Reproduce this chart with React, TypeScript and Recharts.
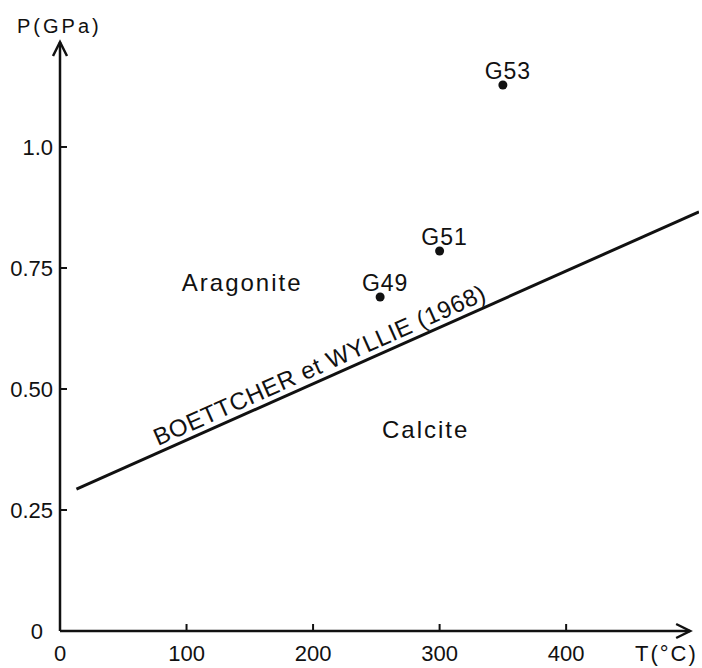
import { ScatterChart, Scatter, XAxis, YAxis, ReferenceLine, ReferenceDot } from "recharts";

// experimental runs
const sampleNames = ["G49", "G51", "G53"];
const sampleT = [253, 300, 350];
const sampleP = [0.69, 0.785, 1.128];

// Boettcher & Wyllie (1968) calcite / aragonite boundary
const boundaryT = [13, 505];
const boundaryP = [0.293, 0.866];

const xTicks = [0, 100, 200, 300, 400];
const yTicks = [0, 0.25, 0.5, 0.75, 1.0];
const yTickLabels = ["0", "0.25", "0.50", "0.75", "1.0"];

// phase field labels
const fieldNames = ["Aragonite", "Calcite"];
const fieldT = [144, 289];
const fieldP = [0.719, 0.417];

const boundaryLabel = "BOETTCHER et WYLLIE (1968)";
const boundaryLabelT = 205;
const boundaryLabelP = 0.55;

const axisEndT = 498;
const axisEndP = 1.217;

const samples = sampleNames.map((name, i) => ({ name, t: sampleT[i], p: sampleP[i] }));
const boundary = boundaryT.map((t, i) => ({ t, p: boundaryP[i] }));

const FONT = "'Liberation Sans', Arial, sans-serif";
const INK = "#111";

const XTick = ({ x, payload }: any) => (
  <g>
    <line x1={x} y1={631} x2={x} y2={624} stroke={INK} strokeWidth={2} />
    <text x={x} y={661} textAnchor="middle" fontFamily={FONT} fontSize={22} fill={INK}>
      {payload.value}
    </text>
  </g>
);

const YTick = ({ y, payload }: any) => {
  const idx = yTicks.indexOf(payload.value);
  const isZero = payload.value === 0;
  return (
    <g>
      {!isZero && <line x1={60} y1={y} x2={67} y2={y} stroke={INK} strokeWidth={2} />}
      <text x={isZero ? 43 : 53} y={y + 8} textAnchor="end" fontFamily={FONT} fontSize={22} fill={INK}>
        {yTickLabels[idx]}
      </text>
    </g>
  );
};

const SampleDot = ({ cx, cy, payload }: any) => (
  <g>
    <circle cx={cx} cy={cy} r={4.5} fill={INK} />
    <text x={cx + 5} y={cy - 6} textAnchor="middle" fontFamily={FONT} fontSize={23} letterSpacing={1} fill={INK}>
      {payload.name}
    </text>
  </g>
);

const arrowAxis = (dir: "x" | "y") => (p: any) => {
  const { x1, y1, x2, y2 } = p;
  const head =
    dir === "x"
      ? `M${x2 - 14},${y2 - 7} L${x2},${y2} L${x2 - 14},${y2 + 7}`
      : `M${x2 - 7},${y2 + 14} L${x2},${y2} L${x2 + 7},${y2 + 14}`;
  return (
    <g>
      <line x1={x1} y1={y1} x2={x2} y2={y2} stroke={INK} strokeWidth={2.5} />
      <path d={head} fill="none" stroke={INK} strokeWidth={2.5} strokeLinejoin="miter" />
    </g>
  );
};

const textAt = (label: string, opts: { angle?: number; size?: number; spacing?: number }) => (p: any) => (
  <text
    x={p.cx}
    y={p.cy}
    textAnchor="middle"
    dominantBaseline="central"
    fontFamily={FONT}
    fontSize={opts.size ?? 24}
    letterSpacing={opts.spacing ?? 0}
    fill={INK}
    transform={opts.angle ? `rotate(${opts.angle} ${p.cx} ${p.cy})` : undefined}
  >
    {label}
  </text>
);

export default function App() {
  return (
    <div style={{ position: "absolute", left: 0, top: 0, width: 702, height: 668, background: "#fff" }}>
      <ScatterChart width={702} height={668} margin={{ top: 40, right: 3, bottom: 36, left: 59 }}>
        <XAxis
          type="number"
          dataKey="t"
          domain={[0, 505]}
          ticks={xTicks}
          interval={0}
          height={1}
          axisLine={false}
          tickLine={false}
          tick={<XTick />}
          allowDataOverflow
        />
        <YAxis
          type="number"
          dataKey="p"
          domain={[0, 1.221]}
          ticks={yTicks}
          interval={0}
          width={1}
          axisLine={false}
          tickLine={false}
          tick={<YTick />}
          allowDataOverflow
        />

        <ReferenceLine segment={[{ x: 0, y: 0 }, { x: axisEndT, y: 0 }]} shape={arrowAxis("x")} ifOverflow="visible" />
        <ReferenceLine segment={[{ x: 0, y: 0 }, { x: 0, y: axisEndP }]} shape={arrowAxis("y")} ifOverflow="visible" />

        <Scatter
          data={boundary}
          line={{ stroke: INK, strokeWidth: 3 }}
          lineType="joint"
          shape={() => <g />}
          isAnimationActive={false}
        />
        <Scatter data={samples} shape={<SampleDot />} isAnimationActive={false} />

        {fieldNames.map((name, i) => (
          <ReferenceDot
            key={name}
            x={fieldT[i]}
            y={fieldP[i]}
            ifOverflow="visible"
            shape={textAt(name, { size: 24, spacing: 2 })}
          />
        ))}
        <ReferenceDot
          x={boundaryLabelT}
          y={boundaryLabelP}
          ifOverflow="visible"
          shape={textAt(boundaryLabel, { angle: -24, size: 24, spacing: 0.6 })}
        />
      </ScatterChart>
      <div
        style={{
          position: "absolute",
          left: 17,
          top: 14,
          fontFamily: FONT,
          fontSize: 20,
          letterSpacing: 3,
          color: INK,
          lineHeight: "24px",
        }}
      >
        P(GPa)
      </div>
      <div
        style={{
          position: "absolute",
          left: 635,
          top: 641,
          fontFamily: FONT,
          fontSize: 22,
          letterSpacing: 2,
          color: INK,
          lineHeight: "26px",
        }}
      >
        T(°C)
      </div>
    </div>
  );
}
